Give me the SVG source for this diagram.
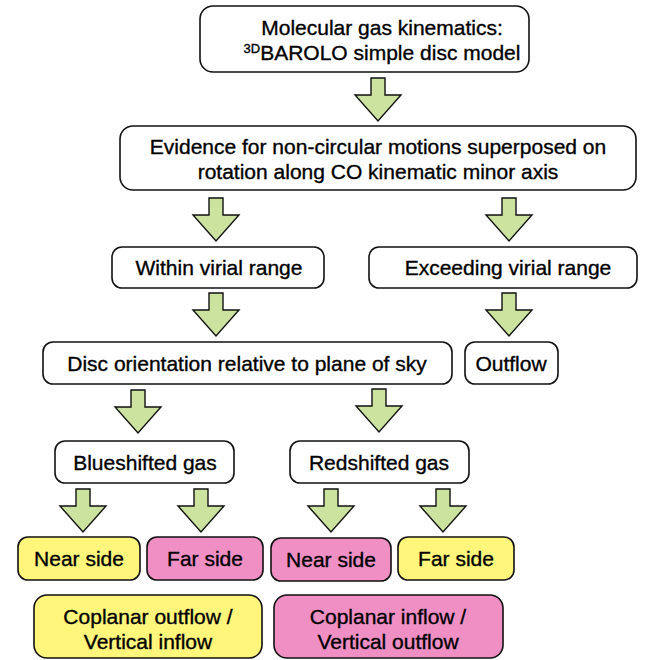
<svg xmlns="http://www.w3.org/2000/svg" width="665" height="660" viewBox="0 0 665 660">
<defs>
<style>
.box{fill:#ffffff;stroke:#111111;stroke-width:1.6}
.yel{fill:#fff67b;stroke:#111111;stroke-width:1.6}
.pnk{fill:#ef8fc4;stroke:#111111;stroke-width:1.6}
.arr{fill:#cce3a0;stroke:#111111;stroke-width:1.4;stroke-linejoin:miter}
text{font-family:"Liberation Sans",Arial,Helvetica,sans-serif;font-size:21px;fill:#000000;stroke:#000000;stroke-width:0.35;text-anchor:middle}
</style>
<path id="ar" d="M-7,0 L7,0 L7,17 L23,17 L0,43 L-23,17 L-7,17 Z"/>
</defs>
<rect width="665" height="660" fill="#ffffff"/>
<g id="connectors">
<use href="#ar" class="arr" x="378" y="78"/>
<use href="#ar" class="arr" x="216" y="198"/>
<use href="#ar" class="arr" x="509" y="198"/>
<use href="#ar" class="arr" x="216" y="293"/>
<use href="#ar" class="arr" x="509" y="293"/>
<use href="#ar" class="arr" x="138" y="390"/>
<use href="#ar" class="arr" x="379" y="389"/>
<use href="#ar" class="arr" x="83" y="489"/>
<use href="#ar" class="arr" x="201" y="489"/>
<use href="#ar" class="arr" x="331" y="489"/>
<use href="#ar" class="arr" x="443" y="489"/>
</g>
<g id="n1">
<rect class="box" x="200" y="6" width="329" height="66" rx="13"/>
<text x="382" y="35">Molecular gas kinematics:</text>
<text x="382" y="60"><tspan font-size="13" dy="-7">3D</tspan><tspan dy="7">BAROLO simple disc model</tspan></text>
</g>
<g id="n2">
<rect class="box" x="120" y="126" width="516" height="64" rx="13"/>
<text x="378" y="154">Evidence for non-circular motions superposed on</text>
<text x="378" y="179">rotation along CO kinematic minor axis</text>
</g>
<g id="n3">
<rect class="box" x="112" y="247" width="212" height="41" rx="10"/>
<text x="219" y="275">Within virial range</text>
</g>
<g id="n4">
<rect class="box" x="369" y="247" width="268" height="41" rx="10"/>
<text x="508" y="275">Exceeding virial range</text>
</g>
<g id="n5">
<rect class="box" x="43" y="342" width="409" height="42" rx="10"/>
<text x="247" y="371">Disc orientation relative to plane of sky</text>
</g>
<g id="n6">
<rect class="box" x="465" y="342" width="93" height="42" rx="10"/>
<text x="511" y="371">Outflow</text>
</g>
<g id="n7">
<rect class="box" x="55" y="441" width="179" height="42" rx="10"/>
<text x="145" y="470">Blueshifted gas</text>
</g>
<g id="n8">
<rect class="box" x="290" y="441" width="179" height="42" rx="10"/>
<text x="379" y="470">Redshifted gas</text>
</g>
<g id="n9">
<rect class="yel" x="18" y="537" width="122" height="43" rx="10"/>
<text x="79" y="566">Near side</text>
</g>
<g id="n10">
<rect class="pnk" x="147" y="537" width="116" height="43" rx="10"/>
<text x="205" y="566">Far side</text>
</g>
<g id="n11">
<rect class="pnk" x="271" y="538" width="120" height="43" rx="10"/>
<text x="331" y="567">Near side</text>
</g>
<g id="n12">
<rect class="yel" x="398" y="537" width="116" height="43" rx="10"/>
<text x="456" y="566">Far side</text>
</g>
<g id="n13">
<rect class="yel" x="34" y="595" width="228" height="63" rx="13"/>
<text x="148" y="624">Coplanar outflow /</text>
<text x="148" y="649">Vertical inflow</text>
</g>
<g id="n14">
<rect class="pnk" x="274" y="595" width="229" height="63" rx="13"/>
<text x="388" y="624">Coplanar inflow /</text>
<text x="388" y="649">Vertical outflow</text>
</g>
</svg>
